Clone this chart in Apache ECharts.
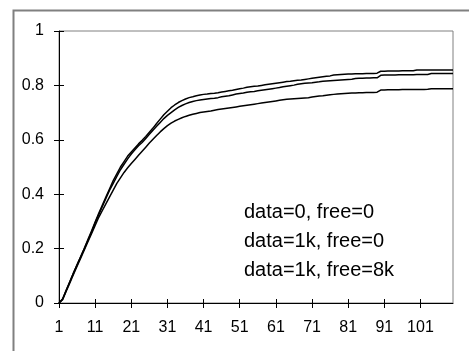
<!DOCTYPE html>
<html>
<head>
<meta charset="utf-8">
<script src="https://cdn.jsdelivr.net/npm/echarts@6/dist/echarts.min.js"></script>
<style>
  html, body { margin: 0; padding: 0; background: #fff; }
  #chart { width: 469px; height: 351px; }
</style>
</head>
<body>
<div id="chart"></div>
<script>
// x categories 1..110, labelled every 10
const categories = [];
for (let i = 1; i <= 110; i++) categories.push(String(i));

const seriesNames = ['data=0, free=0', 'data=1k, free=0', 'data=1k, free=8k'];

const dataZeroFreeZero = [
  0, 0.015, 0.047, 0.078, 0.11, 0.14, 0.17, 0.20, 0.233, 0.265,
  0.298, 0.33, 0.36, 0.39, 0.42, 0.45, 0.475, 0.50, 0.52, 0.54,
  0.555, 0.57, 0.585, 0.598, 0.612, 0.628, 0.643, 0.66, 0.676, 0.692,
  0.705, 0.718, 0.728, 0.737, 0.744, 0.75, 0.755, 0.758, 0.762, 0.765,
  0.767, 0.768, 0.77, 0.771, 0.773, 0.776, 0.778, 0.78, 0.782, 0.785,
  0.788, 0.79, 0.793, 0.795, 0.797, 0.798, 0.80, 0.802, 0.804, 0.806,
  0.808, 0.81, 0.812, 0.814, 0.815, 0.817, 0.819, 0.82, 0.822, 0.824,
  0.826, 0.828, 0.83, 0.832, 0.834, 0.835, 0.838, 0.839, 0.84, 0.841,
  0.842, 0.842, 0.843, 0.843, 0.843, 0.844, 0.844, 0.844, 0.845, 0.852,
  0.852, 0.853, 0.853, 0.853, 0.853, 0.854, 0.854, 0.854, 0.854, 0.857,
  0.857, 0.857, 0.857, 0.857, 0.857, 0.857, 0.857, 0.857, 0.857, 0.857
];
const data1kFreeZero = [
  0, 0.015, 0.047, 0.078, 0.11, 0.14, 0.17, 0.20, 0.23, 0.26,
  0.295, 0.325, 0.355, 0.385, 0.415, 0.44, 0.465, 0.49, 0.51, 0.53,
  0.548, 0.563, 0.578, 0.59, 0.605, 0.62, 0.635, 0.65, 0.664, 0.678,
  0.69, 0.70, 0.71, 0.719, 0.726, 0.732, 0.737, 0.741, 0.744, 0.746,
  0.748, 0.75, 0.752, 0.753, 0.755, 0.758, 0.76, 0.762, 0.765, 0.768,
  0.77, 0.772, 0.775, 0.777, 0.778, 0.78, 0.782, 0.784, 0.786, 0.788,
  0.79, 0.792, 0.795, 0.797, 0.799, 0.801, 0.804, 0.806, 0.808, 0.809,
  0.81, 0.812, 0.813, 0.815, 0.816, 0.817, 0.818, 0.819, 0.82, 0.821,
  0.822, 0.823, 0.825, 0.826, 0.826, 0.827, 0.827, 0.828, 0.828, 0.837,
  0.838, 0.838, 0.838, 0.838, 0.839, 0.839, 0.839, 0.839, 0.839, 0.84,
  0.84, 0.84, 0.84, 0.844, 0.844, 0.844, 0.844, 0.844, 0.844, 0.844
];
const data1kFree8k = [
  0, 0.012, 0.043, 0.074, 0.105, 0.135, 0.165, 0.195, 0.225, 0.255,
  0.285, 0.315, 0.34, 0.365, 0.39, 0.415, 0.44, 0.46, 0.48, 0.497,
  0.513, 0.528, 0.543, 0.558, 0.573, 0.588, 0.602, 0.616, 0.629, 0.641,
  0.652, 0.661, 0.669, 0.675, 0.681, 0.686, 0.69, 0.694, 0.697, 0.70,
  0.702, 0.704, 0.706, 0.709, 0.711, 0.713, 0.715, 0.717, 0.719, 0.721,
  0.723, 0.725, 0.727, 0.729, 0.731, 0.733, 0.735, 0.737, 0.739, 0.741,
  0.743, 0.745, 0.747, 0.749, 0.75, 0.751, 0.752, 0.753, 0.754, 0.755,
  0.757, 0.759, 0.761, 0.762, 0.764, 0.766, 0.767, 0.768, 0.769, 0.77,
  0.771, 0.772, 0.772, 0.773, 0.773, 0.774, 0.774, 0.774, 0.775, 0.783,
  0.783, 0.784, 0.784, 0.784, 0.784, 0.785, 0.785, 0.785, 0.785, 0.785,
  0.785, 0.785, 0.786, 0.788, 0.788, 0.788, 0.788, 0.788, 0.788, 0.788
];

const font = '"Liberation Sans", Arial, sans-serif';

const lineSeries = (name, data) => ({
  name,
  type: 'line',
  data,
  symbol: 'none',
  lineStyle: { color: '#000', width: 1.5 },
  itemStyle: { color: '#000' },
  emphasis: { disabled: true },
  animation: false
});

const chart = echarts.init(document.getElementById('chart'), null, { renderer: 'canvas' });
chart.setOption({
  backgroundColor: '#fff',
  textStyle: { fontFamily: font },
  graphic: [{
    type: 'rect',
    left: 11, top: 8,
    shape: { width: 520, height: 420 },
    style: { fill: 'none', stroke: '#808080', lineWidth: 2 },
    z: -1
  }],
  grid: {
    left: 59, top: 31, right: 16, bottom: 48,
    show: true, borderColor: '#808080', borderWidth: 1
  },
  legend: {
    orient: 'vertical',
    left: 234, top: 197,
    icon: 'none',
    itemWidth: 0, itemHeight: 20, itemGap: 9,
    selectedMode: false,
    textStyle: { fontSize: 20, color: '#000', fontFamily: font, lineHeight: 20 },
    data: seriesNames
  },
  xAxis: [{
    type: 'category',
    data: categories,
    boundaryGap: false,
    axisLine: { lineStyle: { color: '#000', width: 1 } },
    axisTick: { interval: 9, length: 5, lineStyle: { color: '#000' } },
    axisLabel: { interval: 9, color: '#000', fontSize: 16, margin: 17, fontFamily: font },
    splitLine: { show: false }
  }, {
    type: 'category',
    data: categories,
    boundaryGap: false,
    position: 'bottom',
    axisLine: { show: false },
    axisTick: { interval: 9, inside: true, length: 4, lineStyle: { color: '#000' } },
    axisLabel: { show: false },
    splitLine: { show: false }
  }],
  yAxis: [{
    type: 'value',
    min: 0, max: 1, interval: 0.2,
    axisLine: { show: true, lineStyle: { color: '#000', width: 1 } },
    axisTick: { show: true, length: 5, lineStyle: { color: '#000' } },
    axisLabel: { color: '#000', fontSize: 16, margin: 15, fontFamily: font },
    splitLine: { show: false }
  }, {
    type: 'value',
    min: 0, max: 1, interval: 0.2,
    position: 'left',
    axisLine: { show: false },
    axisTick: { show: true, inside: true, length: 5, lineStyle: { color: '#000' } },
    axisLabel: { show: false },
    splitLine: { show: false }
  }],
  series: [
    lineSeries(seriesNames[0], dataZeroFreeZero),
    lineSeries(seriesNames[1], data1kFreeZero),
    lineSeries(seriesNames[2], data1kFree8k)
  ]
});
</script>
</body>
</html>
